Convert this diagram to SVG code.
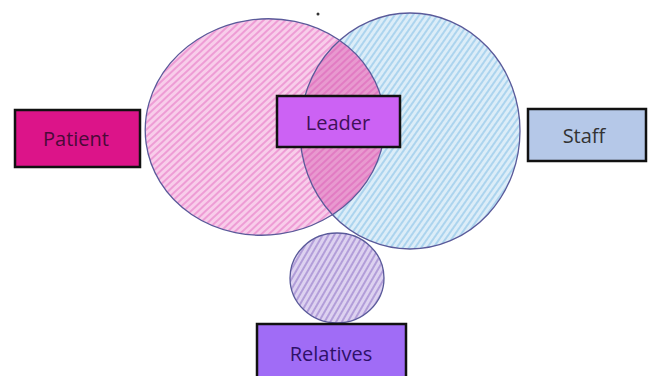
<svg xmlns="http://www.w3.org/2000/svg" width="649" height="376" viewBox="0 0 649 376">
<style>
.box{stroke:#111;stroke-width:2.5}
.lbl{font-family:"Open Sans","Liberation Sans",sans-serif;font-size:20px;text-anchor:middle;dominant-baseline:central}
.outline{fill:none;stroke:#5a5a9a;stroke-width:1.3}
</style>
<defs>
<pattern id="hp" patternUnits="userSpaceOnUse" width="5" height="5" patternTransform="rotate(-35)">
<rect width="5" height="5" fill="#f8cdea"/>
<line x1="0" y1="2" x2="5" y2="2" stroke="#e87cc8" stroke-width="1.2"/>
</pattern>
<pattern id="hb" patternUnits="userSpaceOnUse" width="5" height="5" patternTransform="rotate(-55)">
<rect width="5" height="5" fill="#dcedf8"/>
<line x1="0" y1="2" x2="5" y2="2" stroke="#8cc4e8" stroke-width="1.2"/>
</pattern>
<pattern id="hv" patternUnits="userSpaceOnUse" width="5" height="5" patternTransform="rotate(-60)">
<rect width="5" height="5" fill="#ddd2f0"/>
<line x1="0" y1="2" x2="5" y2="2" stroke="#9f88cf" stroke-width="1.4"/>
</pattern>
<clipPath id="cp"><ellipse cx="265" cy="127" rx="120" ry="108" transform="rotate(-8 265 127)"/></clipPath>
</defs>
<g id="circles">
<ellipse cx="410" cy="131" rx="110" ry="118" fill="url(#hb)"/>
<ellipse cx="265" cy="127" rx="120" ry="108" transform="rotate(-8 265 127)" fill="url(#hp)"/>
<ellipse cx="410" cy="131" rx="110" ry="118" fill="#d04aa8" opacity="0.4" clip-path="url(#cp)"/>
<ellipse cx="265" cy="127" rx="120" ry="108" transform="rotate(-8 265 127)" class="outline"/>
<ellipse cx="410" cy="131" rx="110" ry="118" class="outline"/>
<ellipse cx="337" cy="278" rx="47" ry="45" fill="url(#hv)"/>
<ellipse cx="337" cy="278" rx="47" ry="45" class="outline"/>
<circle cx="318" cy="14" r="1.5" fill="#333"/>
</g>
<g id="patient">
<rect class="box" x="15" y="110" width="125" height="57" fill="#dc1489"/>
<text class="lbl" x="76" y="138" fill="#4a0a38">Patient</text>
</g>
<g id="leader">
<rect class="box" x="277" y="96" width="123" height="51" fill="#cc62f4"/>
<text class="lbl" x="338" y="122" fill="#401058">Leader</text>
</g>
<g id="staff">
<rect class="box" x="528" y="109" width="118" height="52" fill="#b5c8e8"/>
<text class="lbl" x="584" y="135" fill="#333">Staff</text>
</g>
<g id="relatives">
<rect class="box" x="257" y="324" width="149" height="60" fill="#a06cf6"/>
<text class="lbl" x="331" y="353" fill="#2e1068">Relatives</text>
</g>
</svg>
